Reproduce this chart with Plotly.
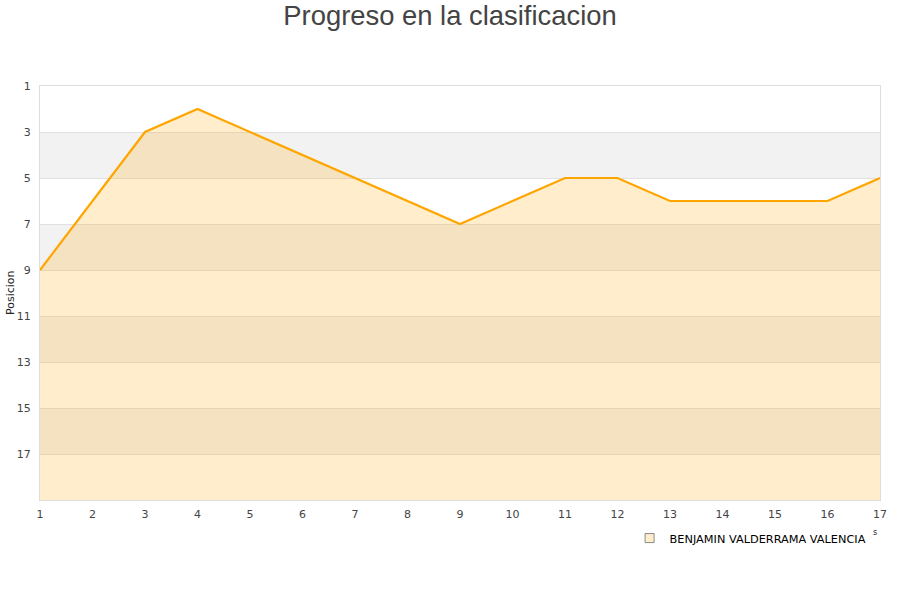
import plotly.graph_objects as go

jornadas = list(range(1, 18))
posiciones = [9, 6, 3, 2, 3, 4, 5, 6, 7, 6, 5, 5, 6, 6, 6, 6, 5]
jugador = "BENJAMIN VALDERRAMA VALENCIA"
y_ticks = [1, 3, 5, 7, 9, 11, 13, 15, 17]
fondo = 19
bandas = [(3, 5), (7, 9), (11, 13), (15, 17)]

fig = go.Figure()
fig.add_trace(go.Scatter(x=jornadas, y=[fondo] * len(jornadas), mode="lines",
                         line=dict(width=0, color="rgba(0,0,0,0)"),
                         showlegend=False, hoverinfo="skip"))
fig.add_trace(go.Scatter(x=jornadas, y=posiciones, mode="lines",
                         line=dict(color="#FFA500", width=2.2),
                         fill="tonexty", fillcolor="rgba(255,165,0,0.2)",
                         showlegend=False, name=jugador))
fig.add_trace(go.Scatter(x=[None], y=[None], mode="markers", name=jugador,
                         marker=dict(symbol="square", size=9, color="#FFEDCC",
                                     line=dict(color="#888888", width=1))))

shapes = []
for a, b in bandas:
    shapes.append(dict(type="rect", xref="paper", x0=0, x1=1, yref="y", y0=a, y1=b,
                       fillcolor="#F2F2F2", line=dict(width=0), layer="below"))

fig.update_layout(
    width=900, height=600,
    paper_bgcolor="white", plot_bgcolor="white",
    margin=dict(l=40, r=20, t=86, b=100, autoexpand=False),
    title=dict(text="Progreso en la clasificacion", x=0.5, xanchor="center",
               yref="container", y=1 - 15 / 600, yanchor="middle",
               font=dict(family="Liberation Sans, Arial", size=27.4, color="#444444")),
    shapes=shapes,
    xaxis=dict(range=[1, 17], tickmode="array", tickvals=jornadas,
               showgrid=False, zeroline=False, showline=True, linecolor="#DDDDDD",
               mirror=True, ticks="", ticklabelstandoff=4, automargin=False,
               tickfont=dict(family="DejaVu Sans", size=11, color="#444444")),
    yaxis=dict(range=[fondo, 1], tickmode="array", tickvals=y_ticks,
               showgrid=True, gridcolor="#E0E0E0", gridwidth=1, zeroline=False,
               showline=True, linecolor="#DDDDDD", mirror=True, ticks="",
               ticklabelstandoff=6, automargin=False,
               tickfont=dict(family="DejaVu Sans", size=11, color="#444444")),
    legend=dict(orientation="h", x=0.99, xanchor="right", y=-0.092, yanchor="middle",
                font=dict(family="DejaVu Sans", size=11.3, color="#000000"),
                bgcolor="rgba(0,0,0,0)"),
    annotations=[
        dict(text="Posicion", xref="paper", yref="paper", x=0, y=0.5, xshift=-30,
             xanchor="center", yanchor="middle",
             textangle=-90, showarrow=False,
             font=dict(family="DejaVu Sans", size=11, color="#222222")),
        dict(text="s", xref="paper", yref="paper", x=1, y=-0.095, xshift=-1,
             showarrow=False, font=dict(family="DejaVu Sans", size=8, color="#222222")),
    ],
    showlegend=True,
)

fig.write_html("out.html", config={"displayModeBar": False},
               post_script="document.body.style.margin='0';document.body.style.padding='0';")
